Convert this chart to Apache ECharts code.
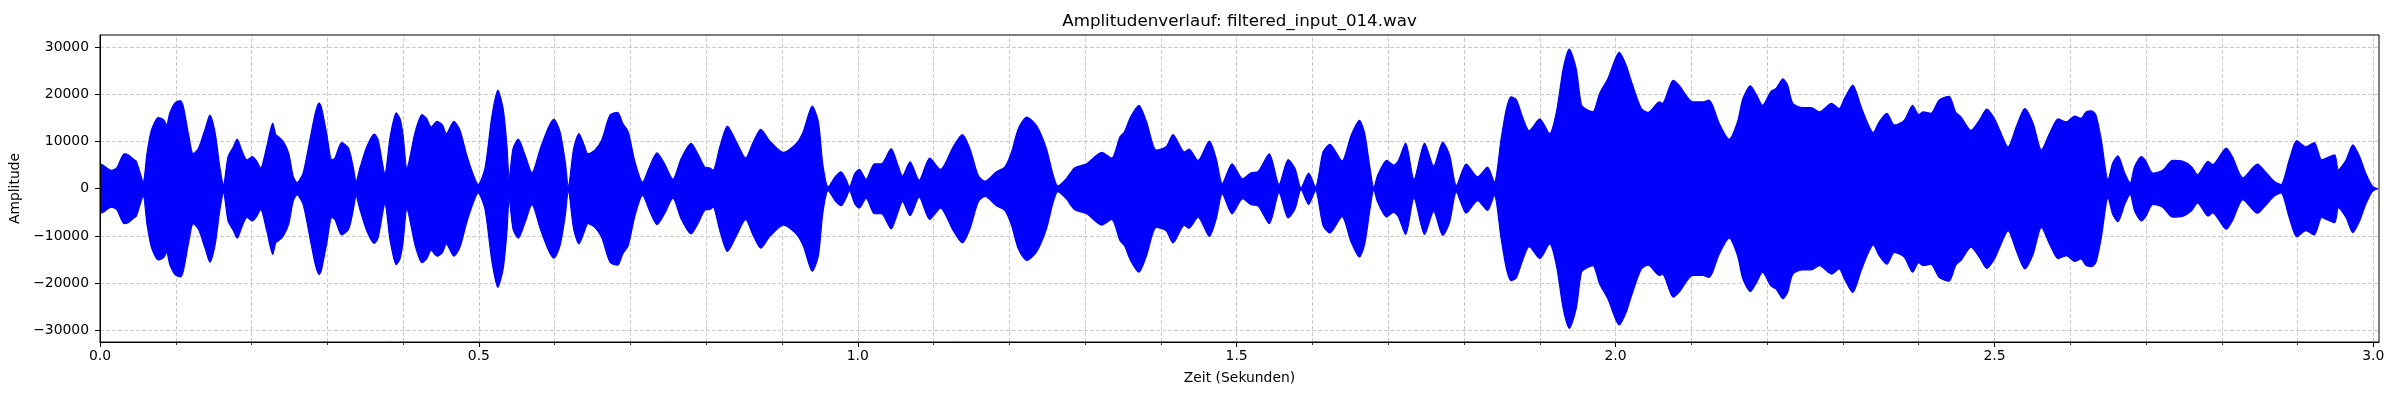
<!DOCTYPE html>
<html><head><meta charset="utf-8">
<script src="https://cdn.jsdelivr.net/npm/echarts@6/dist/echarts.min.js"></script>
<style>html,body{margin:0;padding:0;background:#fff}#c{width:2400px;height:400px}</style>
</head><body><div id="c"></div>
<script>
// Envelope of the waveform (seconds, amplitude of the upper envelope)
const times = [
0.000,0.004,0.015,0.022,0.032,0.037,0.044,0.048,0.057,0.062,0.068,0.077,0.084,0.088,0.092,0.099,0.106,0.110,0.117,0.123,
0.130,0.139,0.145,0.152,0.158,0.163,0.169,0.176,0.181,0.187,0.194,0.201,0.207,0.212,0.220,0.228,0.232,0.235,0.242,0.249,
0.255,0.260,0.268,0.277,0.284,0.289,0.292,0.299,0.306,0.310,0.319,0.328,0.334,0.338,0.343,0.352,0.362,0.367,0.376,0.383,
0.391,0.396,
0.400,0.405,0.416,0.425,0.431,0.437,0.445,0.452,0.457,0.467,0.475,0.484,0.493,0.499,0.508,0.517,0.525,0.532,0.537,0.540,
0.545,0.552,0.561,0.570,0.581,0.592,0.599,0.607,0.614,0.618,0.625,0.632,0.639,0.644,0.653,0.662,0.673,0.683,0.690,0.697,
0.706,0.716,0.726,0.735,0.745,0.756,0.767,0.780,0.789,0.798,0.805,0.809,0.818,
0.828,0.840,0.852,0.862,0.872,0.884,0.902,0.919,0.928,0.940,0.948,0.954,0.961,0.970,0.978,0.985,0.989,0.996,1.002,1.011,
1.022,1.031,1.044,1.053,1.059,1.069,1.081,1.095,1.109,1.126,1.138,1.148,1.159,1.168,1.183,1.194,1.203,1.212,1.223,1.234,
1.240,
1.249,1.258,1.264,1.275,1.286,1.302,1.322,1.335,1.346,1.352,1.360,1.371,1.381,1.394,1.407,1.416,1.431,1.437,1.449,1.464,
1.473,1.481,1.494,1.508,1.519,1.528,1.543,1.556,1.568,1.577,1.585,1.595,1.604,1.614,1.623,1.639,1.651,
1.662,1.669,1.676,1.681,1.686,1.698,1.707,1.713,1.723,1.734,1.748,1.760,1.772,1.781,1.790,1.803,1.818,1.831,1.840,1.849,
1.856,1.862,1.869,1.878,1.886,1.900,1.913,1.922,1.931,1.939,1.948,1.955,1.961,1.970,1.979,1.990,2.005,2.014,2.021,2.034,
2.043,2.058,2.062,2.076,2.084,
2.102,2.115,2.123,2.128,2.137,2.150,2.161,2.168,2.178,2.186,2.194,2.205,2.212,2.221,2.227,2.234,2.247,2.258,2.269,2.285,
2.295,2.302,2.313,2.324,2.333,2.340,2.348,2.358,2.368,2.381,2.392,2.400,2.406,2.416,2.427,2.440,2.449,2.456,2.469,2.480,
2.490,2.500,2.507,
2.518,2.529,2.540,2.551,2.562,2.573,2.584,2.595,2.606,2.614,2.621,2.628,2.634,2.641,2.650,2.656,2.663,2.672,2.679,2.685,
2.694,2.700,2.709,2.722,2.735,2.749,2.760,2.768,2.782,2.788,2.806,2.814,2.828,2.847,2.858,2.869,2.878,2.889,2.899,2.911,
2.922,2.932,2.938,2.949,2.954,2.964,2.973,2.982,2.990,2.999,3.006
];
const envelope = [
5300,5000,3900,4400,7400,7200,6300,5800,1600,7500,12500,15100,14600,13500,16000,18200,18700,17400,11400,7400,
8600,12800,15600,11800,4700,900,6800,8900,10500,8200,6100,6800,5800,4400,8900,13900,11400,11100,10000,7500,
2600,1300,3300,10400,16000,18200,17400,11800,6100,6500,9800,8600,4700,1600,4400,8900,11600,10400,3300,11100,
16100,14800,
11300,4400,12100,15700,14900,13100,14300,13500,11700,14300,12400,7100,2800,900,4300,15200,20900,17000,9200,2100,
8500,10500,7100,3400,8500,13100,14700,12100,5700,400,8500,11700,9200,7400,8200,10300,15600,16200,13800,12100,
5700,1400,5000,7600,5300,2000,6400,9600,7400,4600,4400,3900,8900,
13300,9900,6500,9900,12600,10100,7700,9600,12100,17500,14200,5000,400,2500,3600,1800,400,3200,4100,2000,
5300,5300,8500,5000,2700,5700,1800,6500,4100,8900,11500,8500,2800,1600,3600,4600,7800,12800,15200,13800,
12200,
8500,2800,600,2100,4400,5300,7700,6500,11000,12100,15200,17700,14200,8200,8900,11500,7800,8400,6000,10100,
6400,1100,5300,2100,3400,3600,7400,900,6200,4300,200,3300,400,7800,9400,5900,11300,
14500,11700,4300,200,2800,6000,5000,5800,9700,2000,9700,4800,9900,7100,700,5200,2500,4600,1400,10600,
17000,19500,18900,14900,12300,14800,11700,16300,25500,29600,25500,17700,16900,16300,20200,23400,28900,26200,22700,17000,
16200,18400,18100,23000,21900,
18400,18400,18800,17700,13800,10500,14200,19100,21800,19900,17700,20600,21300,23300,22000,18100,17200,17200,16300,18100,
17000,19100,22000,17400,13800,11900,14200,16000,13500,14500,17700,15700,16300,16000,18800,19600,16200,15200,12400,14500,
16900,14900,12400,
8900,13200,17000,13900,8200,11800,14800,14200,15400,14900,16300,16500,15600,10400,1900,5400,7000,3300,1200,4700,
6800,5800,3300,3900,6000,5800,4700,3000,5800,5100,8600,6800,2300,5200,3500,1600,900,6100,10200,8900,
9800,6100,6500,7200,4000,6100,9300,6800,3300,500,0
];
const xMajorTicks = [0, 0.5, 1.0, 1.5, 2.0, 2.5, 3.0];
const xMinorTicks = [0,0.1,0.2,0.3,0.4,0.5,0.6,0.7,0.8,0.9,1.0,1.1,1.2,1.3,1.4,1.5,1.6,1.7,1.8,1.9,
                     2.0,2.1,2.2,2.3,2.4,2.5,2.6,2.7,2.8,2.9,3.0];
const yTicks = [-30000, -20000, -10000, 0, 10000, 20000, 30000];
const titleText = 'Amplitudenverlauf: filtered_input_014.wav';
const xName = 'Zeit (Sekunden)';
const yName = 'Amplitude';

const X_MAX = 3.0075, Y_MIN = -32500, Y_MAX = 32600;
const FONT = 'DejaVu Sans';
const upper = times.map((t, i) => [t, envelope[i]]);
const lower = times.map((t, i) => [t, -envelope[i]]);

const chart = echarts.init(document.getElementById('c'), null, {renderer: 'canvas'});
const gridStyle = {color: '#cccccc', width: 1, type: [4, 2]};
const gridLines = xMinorTicks.map(v => ({xAxis: v})).concat(yTicks.map(v => ({yAxis: v})));

chart.setOption({
  animation: false,
  backgroundColor: '#ffffff',
  graphic: [{
    type: 'text', x: 1239.5, y: 22,
    style: {text: titleText, fontSize: 16.7, fontFamily: FONT, fill: '#000', align: 'center', verticalAlign: 'middle'}
  }],
  grid: {left: 100, right: 21, top: 35, bottom: 58, show: true, borderColor: '#000', borderWidth: 1, backgroundColor: 'transparent', z: 10},
  xAxis: [{
    type: 'value', min: 0, max: X_MAX, interval: 0.1, z: 20,
    axisLine: {show: true, onZero: false, lineStyle: {color: '#000', width: 1}},
    axisTick: {show: true, length: 3, customValues: xMinorTicks, lineStyle: {color: '#000', width: 0.8}},
    axisLabel: {show: false},
    splitLine: {show: false}
  }, {
    type: 'value', min: 0, max: X_MAX, interval: 0.5, position: 'bottom', z: 20,
    axisLine: {show: false, onZero: false},
    axisTick: {show: true, length: 5, customValues: xMajorTicks, lineStyle: {color: '#000', width: 1}},
    axisLabel: {show: true, customValues: xMajorTicks, margin: 7, fontSize: 13.9, fontFamily: FONT, color: '#000',
                formatter: v => (Math.abs(v * 2 - Math.round(v * 2)) < 1e-6 ? v.toFixed(1) : '')},
    splitLine: {show: false},
    name: xName, nameLocation: 'middle', nameGap: 29,
    nameTextStyle: {fontSize: 13.9, fontFamily: FONT, color: '#000'}
  }],
  yAxis: {
    type: 'value', min: Y_MIN, max: Y_MAX, z: 20,
    axisLine: {show: true, onZero: false, lineStyle: {color: '#000', width: 1}},
    axisTick: {show: true, length: 5, customValues: yTicks, lineStyle: {color: '#000', width: 1}},
    axisLabel: {show: true, customValues: yTicks, margin: 11, fontSize: 13.9, fontFamily: FONT, color: '#000',
                formatter: v => (v < 0 ? '\u2212' + Math.abs(v) : String(v))},
    splitLine: {show: false},
    name: yName, nameLocation: 'middle', nameGap: 72, nameRotate: 90,
    nameTextStyle: {fontSize: 13.9, fontFamily: FONT, color: '#000'}
  },
  series: [{
    type: 'line', data: [], xAxisIndex: 0, yAxisIndex: 0, z: 1, silent: true,
    showSymbol: false, symbol: 'none',
    markLine: {silent: true, z: 1, zlevel: 0, symbol: ['none', 'none'], label: {show: false}, animation: false,
               lineStyle: gridStyle, emphasis: {disabled: true}, data: gridLines}
  }].concat([[upper, -200], [lower, 200]].map(([d, o]) => ({
    type: 'line', data: d, xAxisIndex: 0, yAxisIndex: 0, z: 8,
    showSymbol: false, symbol: 'none', smooth: 0.25,
    lineStyle: {color: '#0000ff', width: 1.2},
    areaStyle: {color: '#0000ff', opacity: 1, origin: o},
    silent: true
  })))
});
</script></body></html>
